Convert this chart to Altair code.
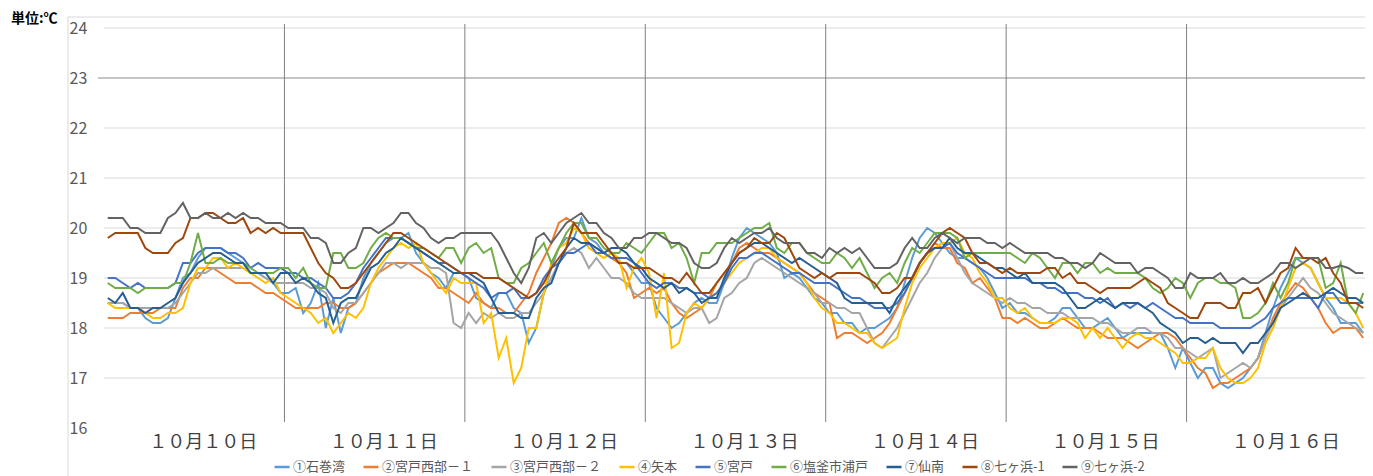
import altair as alt
import pandas as pd

# ---------------- data ----------------
day_labels = ["１０月１０日", "１０月１１日", "１０月１２日", "１０月１３日",
              "１０月１４日", "１０月１５日", "１０月１６日"]
hours_per_day = 24

series_names = ["①石巻湾", "②宮戸西部－１", "③宮戸西部－２", "④矢本", "⑤宮戸",
                "⑥塩釜市浦戸", "⑦仙南", "⑧七ヶ浜-1", "⑨七ヶ浜-2"]
series_colors = ["#5B9BD5", "#ED7D31", "#A5A5A5", "#FFC000", "#4472C4",
                 "#70AD47", "#255E91", "#9E480E", "#636363"]

s1_ishinomaki = [
    18.5,18.5,18.5,18.4,18.4,18.2,18.1,18.1,18.2,18.6,19.0,19.1,19.4,19.6,19.6,19.6,19.5,19.4,19.3,19.1,19.1,19.0,18.9,18.7,
    18.7,18.8,18.3,18.5,18.9,18.0,18.6,17.9,18.4,18.5,19.0,19.3,19.5,19.7,19.8,19.8,19.9,19.5,19.3,19.1,19.0,18.8,19.1,19.1,
    19.0,18.6,18.5,18.4,18.7,18.7,18.4,18.3,17.7,18.0,18.7,19.2,19.6,19.8,19.8,20.2,19.8,19.7,19.5,19.4,19.3,19.3,19.1,18.9,
    18.9,18.4,18.2,18.0,18.1,18.3,18.5,18.6,18.5,18.5,18.9,19.4,19.8,20.0,19.9,19.8,19.7,19.5,19.0,19.1,19.0,18.8,18.6,18.5,
    18.3,18.3,18.1,18.1,17.9,18.0,18.0,18.1,18.2,18.4,18.9,19.4,19.8,20.0,19.9,19.7,19.5,19.4,19.4,19.3,19.2,19.0,18.7,18.4,
    18.5,18.3,18.3,18.2,18.1,18.1,18.2,18.4,18.4,18.2,18.0,18.0,18.1,18.2,18.0,17.8,17.9,17.9,17.9,17.9,17.9,17.6,17.2,17.6,
    17.3,17.0,17.2,17.2,16.9,16.8,16.9,17.0,17.2,17.4,17.9,18.4,18.8,19.1,19.4,19.3,19.2,18.9,18.6,18.4,18.1,18.1,18.1,17.9]
s2_miyato_w1 = [
    18.2,18.2,18.2,18.3,18.3,18.3,18.3,18.4,18.4,18.4,18.8,19.0,19.0,19.2,19.2,19.1,19.0,18.9,18.9,18.9,18.8,18.7,18.7,18.6,
    18.5,18.4,18.4,18.4,18.4,18.5,18.5,18.4,18.4,18.5,18.7,18.9,19.1,19.2,19.3,19.3,19.3,19.2,19.1,19.0,18.8,18.8,18.7,18.6,
    18.5,18.7,18.5,18.4,18.4,18.3,18.3,18.5,18.7,19.1,19.4,19.7,20.1,20.2,20.1,19.9,19.7,19.6,19.5,19.4,19.3,19.1,18.6,18.7,
    18.8,18.7,18.8,18.5,18.3,18.2,18.3,18.4,18.6,18.9,19.1,19.3,19.6,19.7,19.6,19.5,19.5,19.4,19.3,19.2,19.1,18.9,18.7,18.6,
    18.5,17.8,17.9,17.9,17.8,17.7,17.8,17.9,18.1,18.4,18.7,19.0,19.3,19.5,19.7,19.6,19.6,19.3,19.2,18.9,19.0,18.8,18.6,18.2,
    18.2,18.1,18.2,18.1,18.0,18.0,18.1,18.2,18.1,18.0,18.0,18.0,17.9,17.8,17.8,17.8,17.7,17.6,17.7,17.8,17.9,17.9,17.8,17.6,
    17.4,17.2,17.1,16.8,16.9,16.9,17.0,17.1,17.2,17.4,17.8,18.2,18.5,18.7,18.9,18.8,18.6,18.4,18.1,17.9,18.0,18.0,18.0,17.8]
s3_miyato_w2 = [
    18.5,18.5,18.5,18.4,18.4,18.4,18.4,18.4,18.4,18.5,18.7,18.9,19.1,19.1,19.2,19.2,19.2,19.2,19.2,19.1,19.1,19.0,18.9,18.9,
    18.9,18.9,18.9,18.8,18.8,18.7,18.4,18.3,18.5,18.5,18.7,18.9,19.1,19.3,19.3,19.2,19.3,19.3,19.3,19.2,19.2,19.1,18.1,18.0,
    18.3,18.1,18.3,18.2,18.3,18.2,18.2,18.3,18.3,18.5,18.7,19.0,19.3,19.5,19.6,19.5,19.2,19.4,19.2,19.0,19.0,18.9,18.7,18.6,
    18.6,18.6,18.6,18.5,18.4,18.3,18.4,18.4,18.1,18.2,18.6,18.7,18.9,19.0,19.3,19.4,19.3,19.2,19.1,19.0,18.9,18.8,18.7,18.5,
    18.5,18.4,18.4,18.3,18.3,18.0,17.7,17.6,17.8,18.0,18.3,18.6,18.9,19.1,19.4,19.6,19.7,19.4,19.1,18.9,18.8,18.7,18.6,18.5,
    18.6,18.5,18.5,18.4,18.4,18.3,18.3,18.3,18.2,18.2,18.2,18.2,18.1,18.1,18.0,17.9,17.9,18.0,18.0,17.9,17.9,17.8,17.6,17.6,
    17.5,17.4,17.5,17.6,17.0,17.1,17.2,17.3,17.2,17.4,17.8,18.1,18.4,18.6,18.8,19.0,18.8,18.7,18.5,18.3,18.2,18.1,18.0,17.9]
s4_yamoto = [
    18.5,18.4,18.4,18.4,18.4,18.3,18.2,18.2,18.3,18.3,18.4,18.9,19.2,19.2,19.4,19.4,19.2,19.3,19.2,19.1,19.0,18.9,19.0,18.7,
    18.6,18.5,18.4,18.3,18.1,18.2,17.9,18.1,18.3,18.2,18.4,18.9,19.2,19.4,19.6,19.7,19.6,19.7,19.3,19.1,18.9,18.7,19.0,18.9,
    18.9,18.9,18.1,18.3,17.4,17.8,16.9,17.2,18.0,18.0,18.7,19.3,19.6,19.7,20.0,19.9,19.6,19.5,19.4,19.5,19.4,18.8,19.2,19.4,
    19.1,18.2,19.1,17.6,17.7,18.3,18.5,18.4,18.6,18.7,18.9,19.1,19.3,19.4,19.5,19.6,19.6,19.4,19.3,19.2,19.1,18.9,18.6,18.4,
    18.3,18.1,18.1,18.0,17.9,17.9,17.7,17.6,17.7,17.8,18.4,18.9,19.2,19.4,19.6,19.7,19.7,19.8,19.5,19.4,19.1,18.9,18.6,18.6,
    18.4,18.3,18.4,18.2,18.1,18.1,18.1,18.2,18.2,18.1,17.8,18.0,17.8,18.0,17.8,17.6,17.8,17.9,17.8,17.8,17.7,17.6,17.5,17.3,
    17.3,17.4,17.4,17.6,17.2,17.0,16.9,16.9,17.0,17.2,17.7,18.0,18.4,18.8,19.2,19.3,19.2,18.9,18.6,18.6,18.6,18.5,18.3,18.0]
s5_miyato = [
    19.0,19.0,18.9,18.8,18.9,18.8,18.8,18.8,18.8,18.9,19.3,19.3,19.5,19.6,19.6,19.6,19.5,19.5,19.4,19.2,19.3,19.2,19.2,19.2,
    19.1,19.1,19.0,19.0,18.9,18.8,18.6,18.6,18.7,18.9,19.2,19.4,19.6,19.8,19.8,19.8,19.7,19.6,19.5,19.4,19.3,19.3,19.2,19.1,
    19.0,18.9,18.8,18.6,18.7,18.7,18.8,18.6,18.6,18.7,19.0,19.2,19.3,19.5,19.5,19.6,19.7,19.5,19.5,19.4,19.4,19.4,19.3,19.1,
    18.9,18.8,18.9,18.9,18.8,18.8,18.7,18.7,18.6,18.7,18.9,19.2,19.4,19.4,19.5,19.5,19.4,19.3,19.2,19.1,19.1,19.0,18.9,18.9,
    18.9,18.8,18.7,18.6,18.6,18.5,18.4,18.4,18.4,18.5,18.7,19.0,19.3,19.5,19.6,19.6,19.7,19.5,19.4,19.3,19.2,19.1,19.0,19.0,
    19.0,19.0,19.0,18.9,18.9,18.8,18.8,18.7,18.7,18.7,18.6,18.6,18.5,18.6,18.4,18.5,18.4,18.5,18.4,18.5,18.4,18.3,18.2,18.2,
    18.1,18.1,18.1,18.1,18.0,18.0,18.0,18.0,18.0,18.1,18.2,18.4,18.5,18.6,18.6,18.6,18.6,18.4,18.7,18.7,18.5,18.5,18.5,18.5]
s6_shiogama = [
    18.9,18.8,18.8,18.8,18.7,18.8,18.8,18.8,18.8,18.9,18.9,19.3,19.9,19.3,19.3,19.4,19.3,19.3,19.3,19.2,19.1,19.1,19.1,19.2,
    19.2,19.0,19.2,18.9,18.8,18.8,19.5,19.5,19.2,19.2,19.3,19.6,19.8,19.9,19.8,19.8,19.7,19.6,19.6,19.5,19.4,19.6,19.6,19.3,
    19.6,19.7,19.5,19.6,19.0,18.9,18.9,19.2,19.3,19.5,19.7,19.3,19.6,19.9,20.1,20.1,19.8,19.8,19.6,19.5,19.5,19.7,19.6,19.5,
    19.7,19.9,19.9,19.6,19.7,19.4,18.9,19.5,19.5,19.7,19.7,19.7,19.8,19.9,20.0,20.0,20.1,19.6,19.5,19.7,19.7,19.5,19.4,19.3,
    19.3,19.5,19.4,19.2,19.4,19.1,18.8,19.0,19.1,18.9,19.3,19.6,19.5,19.7,19.9,19.9,19.9,19.8,19.4,19.5,19.5,19.5,19.5,19.5,
    19.5,19.4,19.3,19.5,19.4,19.2,19.0,19.3,19.3,19.1,19.3,19.3,19.1,19.2,19.1,19.1,19.1,19.1,19.0,18.8,18.7,18.8,19.0,18.9,
    18.6,18.9,19.0,19.0,18.9,18.9,18.8,18.2,18.2,18.3,18.5,18.9,18.6,18.9,19.4,19.4,19.4,19.4,18.8,18.9,19.3,18.5,18.3,18.7]
s7_sennan = [
    18.6,18.5,18.7,18.4,18.4,18.3,18.4,18.4,18.5,18.6,18.9,19.1,19.3,19.4,19.5,19.5,19.4,19.3,19.3,19.1,19.1,19.1,18.9,19.1,
    19.1,18.9,19.0,18.9,18.7,18.6,18.1,18.5,18.6,18.6,18.9,19.2,19.3,19.5,19.6,19.8,19.7,19.6,19.5,19.4,19.3,19.2,19.1,19.1,
    19.1,19.0,18.9,18.6,18.3,18.3,18.3,18.2,18.2,18.6,18.8,18.9,19.3,19.6,19.8,19.7,19.7,19.6,19.5,19.6,19.6,19.5,19.3,19.2,
    19.0,18.9,18.8,18.9,18.7,18.8,18.7,18.5,18.6,18.6,19.0,19.3,19.5,19.6,19.7,19.7,19.6,19.5,19.4,19.3,19.4,19.3,19.2,19.1,
    19.0,18.9,18.6,18.5,18.5,18.5,18.5,18.5,18.3,18.6,18.8,19.0,19.3,19.5,19.6,19.6,19.8,19.6,19.5,19.5,19.4,19.3,19.2,19.2,
    19.1,19.0,19.1,18.9,18.9,18.9,18.9,18.8,18.6,18.4,18.4,18.5,18.6,18.5,18.4,18.5,18.5,18.5,18.4,18.3,18.1,18.0,17.9,17.7,
    17.8,17.8,17.7,17.8,17.7,17.7,17.7,17.5,17.7,17.7,17.9,18.1,18.4,18.5,18.6,18.7,18.6,18.6,18.7,18.8,18.7,18.6,18.6,18.5]
s8_shichigahama1 = [
    19.8,19.9,19.9,19.9,19.9,19.6,19.5,19.5,19.5,19.7,19.8,20.2,20.2,20.3,20.3,20.2,20.1,20.1,20.2,19.9,20.0,19.9,20.0,19.9,
    19.9,19.9,19.9,19.6,19.3,19.1,19.0,18.8,18.8,18.9,19.1,19.3,19.5,19.7,19.9,19.9,19.8,19.7,19.6,19.5,19.4,19.3,19.2,19.1,
    19.1,19.1,19.0,19.0,19.0,18.9,18.8,18.7,18.6,18.7,18.9,19.2,19.4,19.6,20.1,19.9,19.9,19.9,19.7,19.5,19.3,19.3,19.2,19.2,
    19.2,19.1,19.0,19.0,18.9,19.1,18.9,18.7,18.7,18.9,19.1,19.3,19.5,19.6,19.8,19.7,19.7,19.9,19.8,19.5,19.2,19.1,19.0,19.1,
    19.0,19.1,19.1,19.1,19.1,19.0,18.9,18.7,18.7,18.8,19.0,19.0,19.3,19.5,19.7,19.9,20.0,19.9,19.8,19.5,19.3,19.3,19.2,19.1,
    19.2,19.1,19.1,19.1,19.1,19.2,19.2,19.0,19.1,18.9,18.9,18.8,18.7,18.8,18.8,18.8,18.8,18.9,19.0,18.9,18.8,18.5,18.4,18.3,
    18.2,18.2,18.5,18.5,18.5,18.4,18.4,18.7,18.7,18.8,18.5,18.8,19.1,19.2,19.6,19.4,19.4,19.3,19.4,19.1,18.9,18.5,18.5,18.4]
s9_shichigahama2 = [
    20.2,20.2,20.2,20.0,20.0,19.9,19.9,19.9,20.2,20.3,20.5,20.2,20.2,20.3,20.2,20.2,20.3,20.2,20.3,20.2,20.2,20.1,20.1,20.1,
    20.0,20.0,20.0,19.8,19.8,19.7,19.3,19.3,19.5,19.6,20.0,20.0,19.9,20.0,20.1,20.3,20.3,20.1,20.0,19.8,19.7,19.8,19.8,19.9,
    19.9,19.9,19.9,19.9,19.7,19.4,19.1,18.9,19.2,19.8,19.9,19.7,19.9,20.1,20.2,20.3,20.1,20.1,19.9,19.8,19.6,19.6,19.8,19.8,
    19.9,19.9,19.8,19.7,19.7,19.6,19.3,19.2,19.2,19.3,19.6,19.8,19.7,19.8,19.9,19.9,20.0,19.8,19.7,19.7,19.7,19.5,19.5,19.4,
    19.6,19.5,19.6,19.5,19.6,19.4,19.2,19.2,19.2,19.3,19.6,19.8,19.6,19.6,19.8,19.9,19.8,19.7,19.8,19.8,19.8,19.7,19.7,19.6,
    19.7,19.6,19.5,19.5,19.5,19.5,19.4,19.4,19.3,19.3,19.2,19.3,19.5,19.4,19.3,19.3,19.3,19.1,19.2,19.2,19.1,19.0,18.8,18.8,
    19.1,19.0,19.0,19.0,19.1,18.9,18.9,19.0,18.9,18.9,19.0,19.1,19.3,19.3,19.2,19.3,19.4,19.4,19.2,19.2,19.25,19.2,19.1,19.1]

all_series = [s1_ishinomaki, s2_miyato_w1, s3_miyato_w2, s4_yamoto, s5_miyato,
              s6_shiogama, s7_sennan, s8_shichigahama1, s9_shichigahama2]

y_ticks = [16, 17, 18, 19, 20, 21, 22, 23, 24]
grid_values = [17, 18, 19, 20, 21, 22, 24]
ref_value = 23
unit_label = "単位:℃"

# ---------------- tables ----------------
rows = []
for name, vals in zip(series_names, all_series):
    for h, v in enumerate(vals):
        rows.append({"hour": h, "temp": v, "series": name})
df = pd.DataFrame(rows)

n_hours = hours_per_day * len(day_labels)
day_df = pd.DataFrame({
    "label": day_labels,
    "center": [d * hours_per_day + (hours_per_day - 1) / 2 + 1.2 for d in range(len(day_labels))],
})
sep_df = pd.DataFrame({"pos": [d * hours_per_day + hours_per_day - 0.5 for d in range(len(day_labels))]})
grid_df = pd.DataFrame({"v": grid_values})
ref_df = pd.DataFrame({"v": [ref_value]})
one_df = pd.DataFrame({"t": [unit_label]})

FONT = "Noto Sans CJK JP"
W_VIEW = 1261          # visible view width (page is 1357 px wide inside margins)
W_SCALE = 1263         # pixel span of the hour axis

x_scale = alt.Scale(domain=[-0.5, n_hours - 0.5], range=[0, W_SCALE], nice=False, zero=False)
y_scale = alt.Scale(domain=[16, 24], nice=False, zero=False)
y_axis = alt.Axis(values=y_ticks, grid=False, domain=False, ticks=False,
                  labelAlign="left", labelBaseline="middle", labelPadding=35,
                  labelFontSize=16, labelColor="#595959", labelFont=FONT, title=None)

frame_left = alt.Chart(one_df).mark_rule(color="#D9D9D9", strokeWidth=1).encode(
    x=alt.value(-36), y=alt.value(-11), y2=alt.value(470))
frame_top = alt.Chart(one_df).mark_rule(color="#D9D9D9", strokeWidth=1).encode(
    x=alt.value(-36), x2=alt.value(W_SCALE + 20), y=alt.value(-11))

grid = alt.Chart(grid_df).mark_rule(color="#D9D9D9", strokeWidth=1).encode(
    y=alt.Y("v:Q", scale=y_scale, axis=y_axis), x=alt.value(0), x2=alt.value(W_SCALE))
ref = alt.Chart(ref_df).mark_rule(color="#8C8C8C", strokeWidth=1.2).encode(
    y=alt.Y("v:Q", scale=y_scale, axis=y_axis), x=alt.value(-6), x2=alt.value(W_SCALE))

seps = alt.Chart(sep_df).mark_rule(color="#808080", strokeWidth=1).encode(
    x=alt.X("pos:Q", scale=x_scale, axis=None), y=alt.value(-4), y2=alt.value(394))

lines = alt.Chart(df).mark_line(strokeWidth=2).encode(
    x=alt.X("hour:Q", scale=x_scale, axis=None),
    y=alt.Y("temp:Q", scale=y_scale, axis=y_axis),
    color=alt.Color("series:N",
                    scale=alt.Scale(domain=series_names, range=series_colors),
                    legend=alt.Legend(orient="none", legendX=169, legendY=430,
                                      direction="horizontal", columns=9, title=None,
                                      symbolType="stroke", symbolSize=225,
                                      symbolStrokeWidth=2.5, labelFontSize=13,
                                      labelColor="#595959", labelFont=FONT,
                                      labelOffset=2, columnPadding=12)),
)

day_text = alt.Chart(day_df).mark_text(fontSize=18, font=FONT, color="#404040",
                                       baseline="middle", align="center").encode(
    x=alt.X("center:Q", scale=x_scale, axis=None), y=alt.value(415), text="label:N")

unit_text = alt.Chart(one_df).mark_text(fontSize=14, font=FONT, fontWeight="bold",
                                        color="#000000", align="left",
                                        baseline="middle").encode(
    x=alt.value(-93), y=alt.value(-9), text="t:N")

chart = alt.layer(frame_left, frame_top, grid, ref, seps, lines, day_text, unit_text).properties(
    width=W_VIEW, height=400,
    autosize=alt.AutoSizeParams(type="none"),
    padding={"left": 96, "top": 20, "right": 0, "bottom": 48},
).configure_view(stroke=None)

chart.save("out.html", embed_options={"renderer": "svg", "actions": False})
